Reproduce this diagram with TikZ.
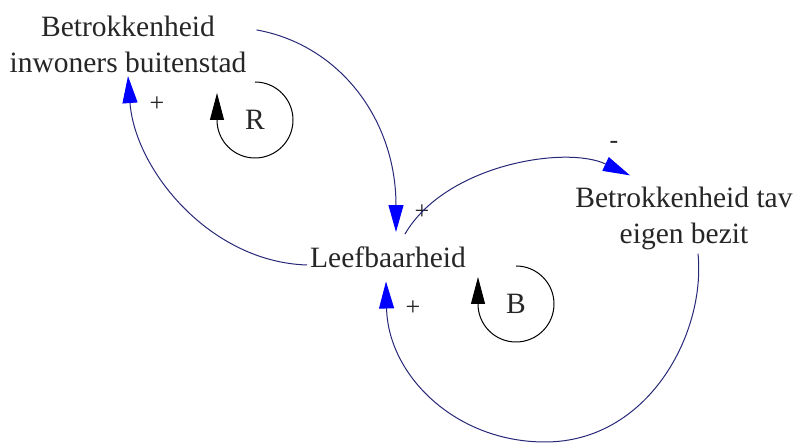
\documentclass[tikz,border=0pt]{standalone}
\usepackage{fontspec}
\setmainfont{Liberation Serif}
\usetikzlibrary{arrows.meta}
\definecolor{linkcol}{RGB}{40,40,120}
\definecolor{tipcol}{RGB}{0,0,255}
\tikzset{
  lbl/.style={inner sep=0pt, font=\fontsize{29.5}{36}\selectfont, text=black!85, align=center},
  sgn/.style={inner sep=0pt, font=\fontsize{26}{30}\selectfont, text=black!85},
  link/.style={draw=linkcol, line width=1pt, -{Triangle[length=27pt,width=15pt,color=tipcol]}},
  loopline/.style={draw=black, line width=1pt, -{Triangle[length=27pt,width=14pt,color=black]}}
}
\begin{document}
\begin{tikzpicture}[x=1pt,y=1pt]
\useasboundingbox[fill=white] (0,0) rectangle (796,446);
% variables
\node[lbl] (bi) at (128,401.5) {Betrokkenheid\\inwoners buitenstad};
\node[lbl, anchor=base] (leef) at (388,178) {Leefbaarheid};
\node[lbl] (tav) at (684,228) {Betrokkenheid tav\\eigen bezit};
% loop labels
\node[lbl] (R) at (255,326) {R};
\node[lbl] (B) at (516,142) {B};
% polarity signs
\node[sgn] (p1) at (157,342) {+};
\node[sgn] (p2) at (422,234) {+};
\node[sgn] (m1) at (614,301) {-};
\node[sgn] (p3) at (413,138) {+};
% links
\draw[link] ([xshift=10pt,yshift=-14pt]bi.north east) .. controls (340,401) and (396,326) .. ([xshift=8pt,yshift=15pt]leef.north);
\draw[link] ([xshift=-3pt,yshift=3pt]leef.base west) .. controls (210,184) and (135,276) .. ([yshift=-3pt]bi.south);
\draw[link] ([xshift=17pt,yshift=13pt]leef.north) .. controls (445,281) and (565,301) .. ([xshift=-54pt,yshift=11pt]tav.north);
\draw[link] ([xshift=14pt,yshift=-4pt]tav.south) .. controls (706,112) and (648,4) .. (545,4) .. controls (455,4) and (388,71) .. ([xshift=-2pt,yshift=-13pt]leef.south);
% loops
\draw[loopline] ([yshift=38pt]R.center) arc[start angle=90, end angle=-180, radius=38] -- ++(0,27);
\draw[loopline] ([yshift=38pt]B.center) arc[start angle=90, end angle=-180, radius=38] -- ++(0,27);
\end{tikzpicture}
\end{document}
